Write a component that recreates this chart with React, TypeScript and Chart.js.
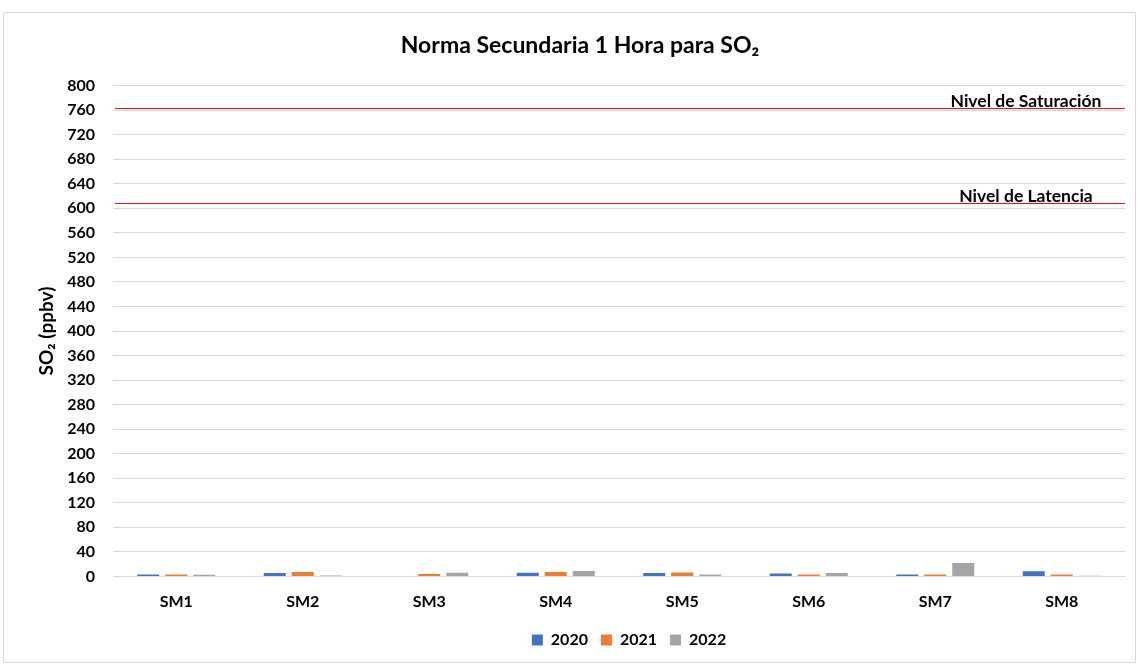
import React, { useEffect, useRef } from "react";
import { Chart, registerables } from "chart.js";

Chart.register(...registerables);

const categories = ["SM1", "SM2", "SM3", "SM4", "SM5", "SM6", "SM7", "SM8"];
const seriesNames = ["2020", "2021", "2022"];
const values2020 = [3.3, 5.4, 0, 6, 5.4, 4.9, 3.3, 8.2];
const values2021 = [3.3, 7, 3.8, 7, 6.5, 3.3, 3.3, 3.3];
const values2022 = [2.7, 1.6, 6, 8.7, 3.3, 5.4, 21.8, 1.1];
const seriesColors = ["#4472C4", "#ED7D31", "#A5A5A5"];
const yMax = 800;
const yStep = 40;
const thresholdLabels = ["Nivel de Saturación", "Nivel de Latencia"];
const thresholdValues = [763, 609];

const FONT = "Lato, 'Open Sans', sans-serif";

const thresholdPlugin = {
  id: "thresholds",
  afterDatasetsDraw(chart: any) {
    const { ctx, chartArea, scales } = chart;
    const y = scales.y;
    thresholdValues.forEach((v, i) => {
      ctx.save();
      const py = Math.round(y.getPixelForValue(v)) + 0.5;
      ctx.strokeStyle = "rgb(232, 16, 26)";
      ctx.lineWidth = 1;
      ctx.beginPath();
      ctx.moveTo(chartArea.left + 2, py);
      ctx.lineTo(chartArea.right, py);
      ctx.stroke();
      ctx.fillStyle = "#000000";
      ctx.font = `bold 17.5px ${FONT}`;
      ctx.textAlign = "center";
      ctx.textBaseline = "alphabetic";
      ctx.fillText(thresholdLabels[i], chartArea.right - 99, py - 2);
      ctx.restore();
    });
  },
};

// centre the legend under the plot area instead of the whole canvas
const legendShiftPlugin = {
  id: "legendShift",
  afterLayout(chart: any) {
    const lg = chart.legend;
    if (!lg) return;
    const plotCenter = (chart.chartArea.left + chart.chartArea.right) / 2 + 10;
    const boxCenter = (lg.left + lg.right) / 2;
    const d = plotCenter - boxCenter;
    lg.left += d;
    lg.right += d;
  },
};

export default function App() {
  const ref = useRef<HTMLCanvasElement | null>(null);
  useEffect(() => {
    if (!ref.current) return;
    const data = [values2020, values2021, values2022];
    const chart = new Chart(ref.current, {
      type: "bar",
      data: {
        labels: categories,
        datasets: seriesNames.map((name, i) => ({
          label: name,
          data: data[i],
          backgroundColor: seriesColors[i],
          borderWidth: 0,
          categoryPercentage: 0.664,
          barPercentage: 0.786,
        })),
      },
      plugins: [thresholdPlugin, legendShiftPlugin],
      options: {
        responsive: false,
        animation: false,
        layout: { padding: { left: 35, right: 15, top: 0, bottom: 8 } },
        plugins: {
          title: {
            display: true,
            text: "Norma Secundaria 1 Hora para SO₂",
            color: "#000",
            font: { family: FONT, size: 23, weight: "bold" },
            padding: { top: 32, bottom: 26 },
          },
          legend: {
            position: "bottom",
            labels: {
              color: "#000",
              font: { family: FONT, size: 16, weight: "bold" },
              boxWidth: 11,
              boxHeight: 11,
              padding: 13,
            },
          },
          tooltip: { enabled: false },
        },
        scales: {
          x: {
            afterFit: (scale: any) => {
              scale.height = 42.6;
            },
            grid: { display: false, drawTicks: false },
            border: { color: "#D9D9D9" },
            ticks: {
              color: "#000",
              font: { family: FONT, size: 16, weight: "bold" },
              padding: 16,
            },
          },
          y: {
            min: 0,
            max: yMax,
            afterFit: (scale: any) => {
              scale.width = 78;
            },
            title: {
              display: true,
              text: "SO₂ (ppbv)",
              color: "#000",
              font: { family: FONT, size: 19, weight: "bold" },
              padding: 0,
            },
            grid: { color: "#D9D9D9", drawTicks: false },
            border: { display: false },
            ticks: {
              stepSize: yStep,
              color: "#000",
              font: { family: FONT, size: 16, weight: "bold" },
              padding: 18,
            },
          },
        },
      },
    });
    return () => chart.destroy();
  }, []);
  return (
    <div style={{ position: "fixed", left: 0, top: 0, width: 1140, height: 666, background: "#fff" }}>
      <div
        style={{
          position: "absolute",
          left: 3,
          top: 12,
          width: 1133,
          height: 651,
          border: "1px solid #D9D9D9",
          boxSizing: "border-box",
        }}
      />
      <canvas ref={ref} width={1140} height={666} style={{ position: "absolute", left: 0, top: 0 }} />
    </div>
  );
}
